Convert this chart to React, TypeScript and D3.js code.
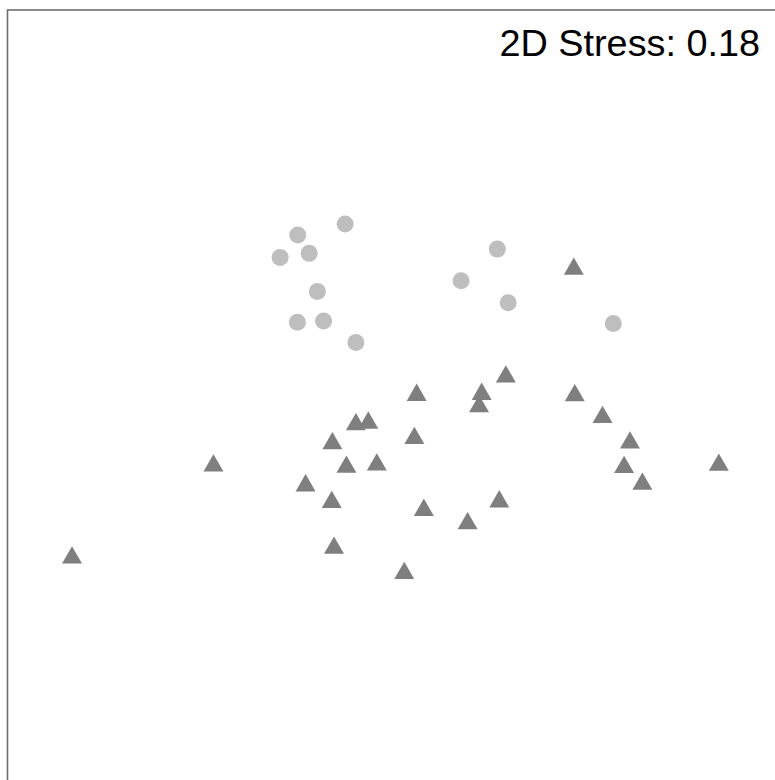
import React from "react";
import * as d3 from "d3";

const groupAX = [-0.168, -0.313, -0.278, -0.367, -0.253, -0.314, -0.234, -0.135, 0.298, 0.187, 0.331, 0.653];
const groupAY = [0.545, 0.511, 0.455, 0.442, 0.338, 0.244, 0.248, 0.182, 0.468, 0.371, 0.304, 0.240];

const groupBX = [0.532, 0.324, 0.250, 0.242, 0.051, -0.135, -0.097, -0.207, 0.044, -0.164, -0.071, 0.535, 0.620, 0.704, 0.686, 0.742, 0.976, -0.571, -0.289, -0.209, 0.073, 0.304, 0.207, -0.202, 0.013, -1.004];
const groupBY = [0.407, 0.077, 0.024, -0.014, 0.021, -0.069, -0.064, -0.127, -0.111, -0.199, -0.192, 0.020, -0.047, -0.125, -0.200, -0.251, -0.193, -0.195, -0.256, -0.307, -0.331, -0.305, -0.372, -0.447, -0.524, -0.477];

const stressLabel = "2D Stress: 0.18";

export default function App() {
  const W = 775, H = 780;
  const x = d3.scaleLinear().domain([-1.2, 1.2]).range([8, 792]);
  const y = d3.scaleLinear().domain([-1.2, 1.2]).range([794, 10]);
  const tri = d3.symbol().type(d3.symbolTriangle).size(173)();
  return (
    <svg width={W} height={H} style={{ position: "absolute", left: 0, top: 0, background: "#fff" }}>
      <rect x={0} y={0} width={W} height={H} fill="#fff" />
      <rect x={7.5} y={10} width={800} height={800} fill="none" stroke="#6e6e6e" strokeWidth={1.6} />
      {groupAX.map((v, i) => (
        <circle key={"a" + i} cx={x(v)} cy={y(groupAY[i])} r={8.5} fill="#bebebe" />
      ))}
      {groupBX.map((v, i) => (
        <path key={"b" + i} d={tri || ""} transform={`translate(${x(v)},${y(groupBY[i])})`} fill="#7f7f7f" />
      ))}
      <text x={760} y={56} textAnchor="end" fontFamily="'Liberation Sans', Arial, sans-serif" fontSize={37.8} fill="#000">
        {stressLabel}
      </text>
    </svg>
  );
}
